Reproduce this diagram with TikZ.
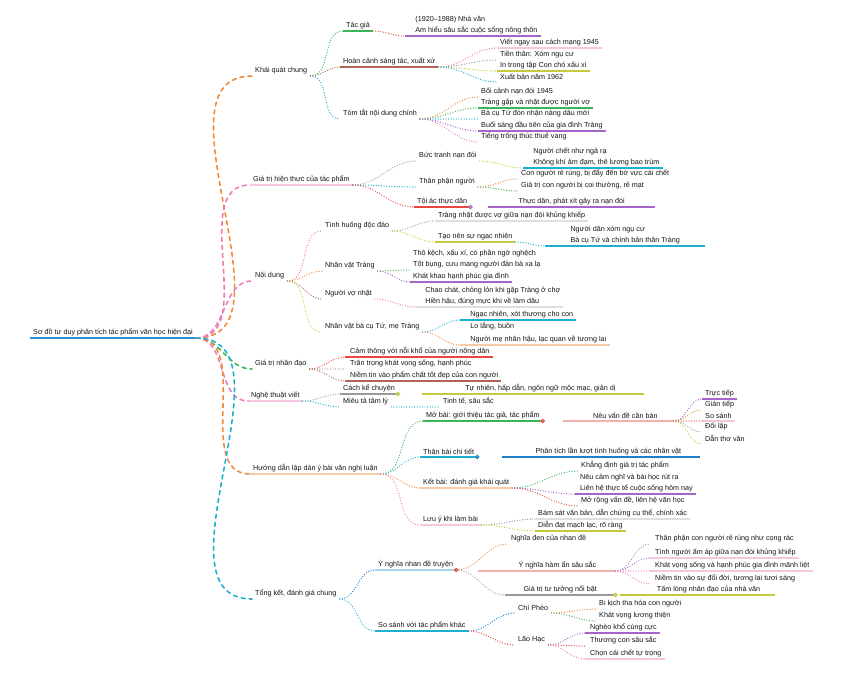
\documentclass[tikz,border=0pt]{standalone}
\usepackage{fontspec}
\setmainfont{Liberation Sans}
\usepackage{tikz}

\definecolor{rootblue}{HTML}{2B8FD2}
\definecolor{mporange}{HTML}{F08A3C}
\definecolor{mppink}{HTML}{F07AB8}
\definecolor{mpgreen}{HTML}{3BB55A}
\definecolor{mpred}{HTML}{E8473F}
\definecolor{mppurple}{HTML}{A666C8}
\definecolor{mpbrown}{HTML}{B0645A}
\definecolor{mpolive}{HTML}{C5C93A}
\definecolor{mpcyan}{HTML}{1EB0D0}
\definecolor{mpgray}{HTML}{9A9A9A}
\definecolor{mpblue}{HTML}{1E7FC8}
\definecolor{lightorange}{HTML}{F8CBA8}
\definecolor{lightpink}{HTML}{F6C6DE}
\definecolor{lightblue}{HTML}{A6D4EE}
\definecolor{lightgray}{HTML}{DEDEDE}
\definecolor{lightred}{HTML}{F4B0AC}

\tikzset{
  topic/.style={font=\fontsize{7.2}{11}\selectfont, text=black!92, inner xsep=3pt,
    inner ysep=2pt, anchor=south west, align=left},
  uline/.style={line width=1.6pt, draw=#1},
  link/.style={draw=#1, line width=1.3pt, line cap=round, dash pattern=on 0pt off 2.6pt},
  mainlink/.style={draw=#1, line width=1.6pt, line cap=round, dash pattern=on 4pt off 4pt}
}

\begin{document}
\begin{tikzpicture}[x=1pt, y=-1pt]
\useasboundingbox (0,0) rectangle (848,678);

% root
\node[topic] (root) at (30,338) {Sơ đồ tư duy phân tích tác phẩm văn học hiện đại};

% first branch
\node[topic] (n1) at (252,76) {Khái quát chung};
\node[topic] (n1a) at (343,31) {Tác giả};
\node[topic] (n1a1) at (405,36) {\quad(1920–1988) Nhà văn\\\quad Am hiểu sâu sắc cuộc sống nông thôn};
\node[topic] (n1b) at (340,67) {Hoàn cảnh sáng tác, xuất xứ};
\node[topic] (n1b1) at (497,48) {Viết ngay sau cách mạng 1945};
\node[topic] (n1b2) at (497,60) {Tiền thân: Xóm ngụ cư};
\node[topic] (n1b3) at (497,71) {In trong tập Con chó xấu xí};
\node[topic] (n1b4) at (497,82) {Xuất bản năm 1962};
\node[topic] (n1c) at (340,119) {Tóm tắt nội dung chính};
\node[topic] (n1c1) at (478,97) {Bối cảnh nạn đói 1945};
\node[topic] (n1c2) at (478,108) {Tràng gặp và nhặt được người vợ};
\node[topic] (n1c3) at (478,119) {Bà cụ Tứ đón nhận nàng dâu mới};
\node[topic] (n1c4) at (478,131) {Buổi sáng đầu tiên của gia đình Tràng};
\node[topic] (n1c5) at (478,142) {Tiếng trống thúc thuế vang};

% second branch
\node[topic] (n2) at (250,185) {Giá trị hiện thực của tác phẩm};
\node[topic] (n2a) at (416,161) {Bức tranh nạn đói};
\node[topic] (n2a1) at (523,168) {\quad Người chết như ngả rạ\\\quad Không khí ảm đạm, thê lương bao trùm};
\node[topic] (n2b) at (416,187) {Thân phận người};
\node[topic] (n2b1) at (518,179) {Con người rẻ rúng, bị đẩy đến bờ vực cái chết};
\node[topic] (n2b2) at (518,191) {Giá trị con người bị coi thường, rẻ mạt};
\node[topic] (n2c) at (414,207) {Tội ác thực dân};
\node[topic, minimum width=167pt] (n2c1) at (488,207) {Thực dân, phát xít gây ra nạn đói};

% third branch
\node[topic] (n3) at (252,281) {Nội dung};
\node[topic] (n3a) at (322,231) {Tình huống độc đáo};
\node[topic] (n3a1) at (435,221) {Tràng nhặt được vợ giữa nạn đói khủng khiếp};
\node[topic] (n3a2) at (435,242) {Tạo nên sự ngạc nhiên};
\node[topic, minimum width=160pt] (n3a2a) at (545,246) {Người dân xóm ngụ cư\\Bà cụ Tứ và chính bản thân Tràng};
\node[topic] (n3b) at (322,271) {Nhân vật Tràng};
\node[topic] (n3b1) at (410,270) {Thô kệch, xấu xí, có phần ngờ nghệch\\Tốt bụng, cưu mang người đàn bà xa lạ};
\node[topic] (n3b2) at (410,282) {Khát khao hạnh phúc gia đình};
\node[topic] (n3c) at (322,299) {Người vợ nhặt};
\node[topic] (n3c1) at (415,307) {\quad Chao chát, chỏng lỏn khi gặp Tràng ở chợ\\\quad Hiền hậu, đúng mực khi về làm dâu};
\node[topic] (n3d) at (322,332) {Nhân vật bà cụ Tứ, mẹ Tràng};
\node[topic] (n3d1) at (460,320) {\quad Ngạc nhiên, xót thương cho con};
\node[topic] (n3d2) at (460,332) {\quad Lo lắng, buồn};
\node[topic] (n3d3) at (460,345) {\quad Người mẹ nhân hậu, lạc quan về tương lai};

% fourth branch
\node[topic] (n4) at (252,369) {Giá trị nhân đạo};
\node[topic] (n4a) at (345,357) {\ Cảm thông với nỗi khổ của người nông dân};
\node[topic] (n4b) at (345,369) {\ Trân trọng khát vọng sống, hạnh phúc};
\node[topic] (n4c) at (345,381) {\ Niềm tin vào phẩm chất tốt đẹp của con người};

% fifth branch
\node[topic] (n5) at (248,401) {Nghệ thuật viết};
\node[topic] (n5a) at (340,394) {Cách kể chuyện};
\node[topic, minimum width=222pt] (n5a1) at (422,394) {\qquad Tự nhiên, hấp dẫn, ngôn ngữ mộc mạc, giản dị};
\node[topic] (n5b) at (340,407) {Miêu tả tâm lý};
\node[topic] (n5b1) at (440,407) {Tinh tế, sâu sắc};

% sixth branch
\node[topic] (n6) at (250,474) {Hướng dẫn lập dàn ý bài văn nghị luận};
\node[topic] (n6a) at (423,421) {Mở bài: giới thiệu tác giả, tác phẩm};
\node[topic, minimum width=110pt] (n6a1) at (563,421) {\qquad Nêu vấn đề cần bàn};
\node[topic] (n6a1a) at (702,399) {Trực tiếp};
\node[topic] (n6a1b) at (702,410) {Gián tiếp};
\node[topic] (n6a1c) at (702,421) {So sánh};
\node[topic] (n6a1d) at (702,432) {Đối lập};
\node[topic] (n6a1e) at (702,444) {Dẫn thơ văn};
\node[topic] (n6b) at (420,457) {Thân bài chi tiết};
\node[topic, minimum width=198pt] (n6b1) at (502,457) {\qquad Phân tích lần lượt tình huống và các nhân vật};
\node[topic] (n6c) at (420,488) {Kết bài: đánh giá khái quát};
\node[topic] (n6c1) at (578,471) {Khẳng định giá trị tác phẩm};
\node[topic] (n6c2) at (575,494) {\ Nêu cảm nghĩ và bài học rút ra\\\ Liên hệ thực tế cuộc sống hôm nay};
\node[topic] (n6c3) at (578,506) {Mở rộng vấn đề, liên hệ văn học};
\node[topic] (n6d) at (420,525) {Lưu ý khi làm bài};
\node[topic] (n6d1) at (535,519) {Bám sát văn bản, dẫn chứng cụ thể, chính xác};
\node[topic] (n6d2) at (535,531) {Diễn đạt mạch lạc, rõ ràng};

% seventh branch
\node[topic] (n7) at (252,599) {Tổng kết, đánh giá chung};
\node[topic] (n7a) at (375,570) {Ý nghĩa nhan đề truyện};
\node[topic] (n7a1) at (508,544) {Nghĩa đen của nhan đề};
\node[topic, minimum width=137pt] (n7a2) at (478,571) {\qquad\quad Ý nghĩa hàm ẩn sâu sắc};
\node[topic] (n7a2a) at (650,544) {\ Thân phận con người rẻ rúng như cọng rác};
\node[topic] (n7a2b) at (650,558) {\ Tình người ấm áp giữa nạn đói khủng khiếp};
\node[topic] (n7a2c) at (650,571) {\ Khát vọng sống và hạnh phúc gia đình mãnh liệt};
\node[topic] (n7a2d) at (650,584) {\ Niềm tin vào sự đổi đời, tương lai tươi sáng};
\node[topic, minimum width=110pt] (n7a3) at (505,595) {Giá trị tư tưởng nổi bật};
\node[topic, minimum width=155pt] (n7a3a) at (620,595) {\qquad\quad Tấm lòng nhân đạo của nhà văn};
\node[topic] (n7b) at (375,631) {So sánh với tác phẩm khác};
\node[topic] (n7b1) at (515,613) {Chí Phèo};
\node[topic] (n7b1a) at (596,609) {Bi kịch tha hóa con người};
\node[topic] (n7b1b) at (596,621) {Khát vọng lương thiện};
\node[topic] (n7b2) at (515,645) {Lão Hạc};
\node[topic] (n7b2a) at (585,633) {\ Nghèo khổ cùng cực};
\node[topic] (n7b2b) at (585,646) {\ Thương con sâu sắc};
\node[topic] (n7b2c) at (585,659) {\ Chọn cái chết tự trọng};

% underlines
\draw[uline=rootblue, line width=2.2pt] (root.south west) -- (root.south east);
\foreach \n/\c in {n1a/mpgreen, n1a1/mppurple, n1b/mpbrown, n1b1/lightpink, n1b3/mpolive,
    n1c2/mpgreen, n1c4/mppurple, n2/lightpink, n2a1/mpcyan, n2c/mpred, n2c1/mppurple,
    n3a1/lightgray, n3a2/mpolive, n3a2a/mpcyan, n3b2/mppurple, n3c1/lightgray,
    n3d1/mpcyan, n3d3/lightorange, n4a/mpred, n4c/mpbrown, n5/lightpink, n5a/mpgray,
    n5a1/mpolive, n6/lightorange, n6a/mpgreen, n6a1/lightred, n6a1a/mppurple,
    n6a1c/lightpink, n6b/mpcyan, n6b1/mpblue, n6c/lightorange, n6c2/mppurple,
    n6d/lightpink, n6d1/lightgray, n6d2/mpolive, n7a/lightblue, n7a2/lightred,
    n7a2b/lightpink, n7a2c/lightpink, n7a3/mpgray, n7a3a/mpolive, n7b/mpcyan,
    n7b2a/mppurple, n7b2c/lightpink}
  \draw[uline=\c] (\n.south west) -- (\n.south east);

% root links
\foreach \b/\c in {n1/mporange, n2/mppink, n3/mppink, n4/mpgreen, n5/mppink,
    n6/mporange, n7/mpcyan}
  \draw[mainlink=\c] (root.south east) to[out=0, in=180] (\b.south west);

% branch links
\foreach \a/\b/\c in {n1/n1a/mpgreen, n1a/n1a1/mpred, n1/n1b/mpbrown, n1b/n1b1/mppink,
    n1b/n1b2/mpgray, n1b/n1b3/mpolive, n1b/n1b4/mpcyan, n1/n1c/mpcyan,
    n1c/n1c1/mporange, n1c/n1c2/mpgreen, n1c/n1c3/mpcyan, n1c/n1c4/mppurple,
    n1c/n1c5/mppink, n2/n2a/mpgray, n2a/n2a1/mpolive, n2/n2b/mpcyan,
    n2b/n2b1/mporange, n2b/n2b2/mpgreen, n2/n2c/mpred, n3/n3a/mppink,
    n3a/n3a1/mpgray, n3a/n3a2/mpolive, n3a2/n3a2a/mpcyan, n3/n3b/mporange,
    n3b/n3b1/mpgreen, n3b/n3b2/mppurple, n3/n3c/mpbrown, n3c/n3c1/mppink,
    n3/n3d/mpolive, n3d/n3d1/mpcyan, n3d/n3d3/mporange, n4/n4a/mpred,
    n4/n4b/mpgray, n4/n4c/mpbrown, n5/n5a/mpgray, n5/n5b/mpcyan,
    n5b/n5b1/mpcyan, n6/n6a/mpgreen, n6a1/n6a1a/mppurple, n6a1/n6a1b/mporange,
    n6a1/n6a1c/mpred, n6a1/n6a1d/mpgray, n6a1/n6a1e/mpolive, n6/n6b/mpcyan,
    n6/n6c/mporange, n6c/n6c1/mpgreen, n6c/n6c2/mppurple, n6c/n6c3/mpred,
    n6/n6d/mppink, n6d/n6d1/mpgray, n6d/n6d2/mpolive, n7/n7a/mpblue,
    n7a/n7a1/mporange, n7a2/n7a2a/mpgray, n7a2/n7a2b/mppurple,
    n7a2/n7a2c/mppink, n7a2/n7a2d/mppink, n7a/n7a3/mpgray, n7/n7b/mpcyan,
    n7b/n7b1/mpblue, n7b1/n7b1a/mporange, n7b1/n7b1b/mpgreen, n7b/n7b2/mpred,
    n7b2/n7b2a/mppurple, n7b2/n7b2b/mpred, n7b2/n7b2c/mppink}
  \draw[link=\c] (\a.south east) to[out=0, in=180] (\b.south west);

% straight joins
\foreach \a/\b/\c in {n2c/n2c1/mppurple, n5a/n5a1/mpolive, n6a/n6a1/mpred,
    n6b/n6b1/mpblue, n7a/n7a2/mpred, n7a3/n7a3a/mpolive}
  \draw[\c, line width=1.2pt, fill=white] (\a.south east) circle (1.6pt);
\end{tikzpicture}
\end{document}
